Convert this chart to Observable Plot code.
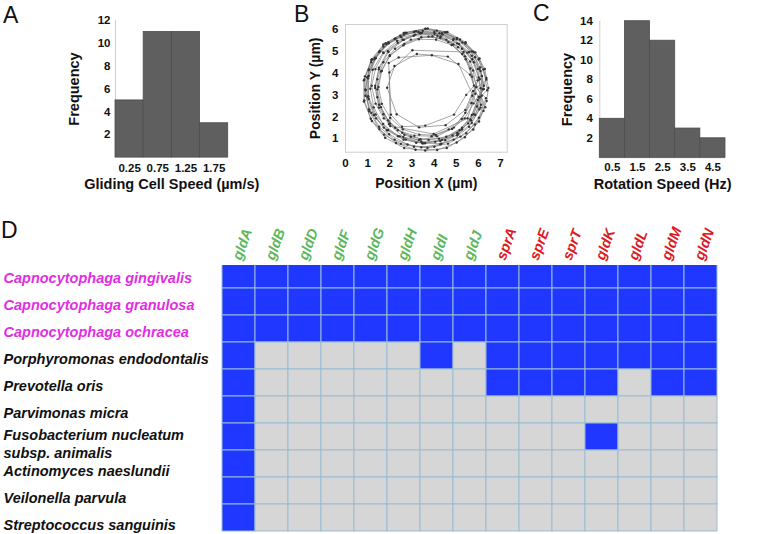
<!DOCTYPE html>
<html><head><meta charset="utf-8">
<script src="https://cdn.jsdelivr.net/npm/d3@7"></script>
<script src="https://cdn.jsdelivr.net/npm/@observablehq/plot@0.6"></script>
<style>
body{margin:0;background:#fff;}
#fig{position:relative;width:762px;height:534px;overflow:hidden;font-family:"Liberation Sans",Arial,sans-serif;}
.panel{position:absolute;}
.panel svg{max-width:none !important;}
.letter{position:absolute;font-size:23px;line-height:23px;color:#111;}
</style></head><body>
<div id="fig">
  <div id="pa" class="panel" style="left:0;top:0;width:262px"></div>
  <div id="pb" class="panel" style="left:250px;top:0;width:270px"></div>
  <div id="pc" class="panel" style="left:520px;top:0;width:242px"></div>
  <div id="pd" class="panel" style="left:0;top:200px;width:762px"></div>
  <div class="letter" style="left:3px;top:3.5px">A</div>
  <div class="letter" style="left:294px;top:2.5px">B</div>
  <div class="letter" style="left:533px;top:1.5px">C</div>
  <div class="letter" style="left:1px;top:218.5px">D</div>
</div>
<script>
// ---------- data ----------
const speedBinStart = [0, 0.5, 1.0, 1.5];
const speedBinEnd = [0.5, 1.0, 1.5, 2.0];
const speedTicks = [0.25, 0.75, 1.25, 1.75];
const speedFreq = [5, 11, 11, 3];
const speedYTicks = [2, 4, 6, 8, 10, 12];

const rotBinStart = [0, 1, 2, 3, 4];
const rotBinEnd = [1, 2, 3, 4, 5];
const rotTicks = [0.5, 1.5, 2.5, 3.5, 4.5];
const rotFreq = [4, 14, 12, 3, 2];
const rotYTicks = [2, 4, 6, 8, 10, 12, 14];

const posXTicks = [0, 1, 2, 3, 4, 5, 6, 7];
const posYTicks = [1, 2, 3, 4, 5, 6];
const track = [
[6.10,3.30],[5.97,4.18],[5.50,4.92],[4.86,5.49],[4.02,5.78],[3.15,5.74],[2.33,5.45],[1.70,4.93],[1.23,4.14],[1.12,3.28],[1.27,2.43],[1.70,1.67],[2.37,1.12],[3.19,0.82],[4.05,0.86],[4.83,1.15],[5.54,1.70],[5.93,2.47],
[6.36,3.77],[6.05,4.66],[5.42,5.39],[4.60,5.86],[3.71,6.02],[2.76,5.82],[1.95,5.35],[1.37,4.67],[1.02,3.75],[1.05,2.81],[1.38,1.93],[1.97,1.21],[2.80,0.74],[3.70,0.58],[4.63,0.78],[5.45,1.25],[6.02,1.96],[6.34,2.85],
[5.80,3.42],[5.64,4.20],[5.27,4.86],[4.64,5.40],[3.92,5.66],[3.08,5.69],[2.36,5.37],[1.72,4.90],[1.35,4.17],[1.18,3.41],[1.36,2.60],[1.73,1.93],[2.36,1.39],[3.11,1.14],[3.89,1.12],[4.66,1.43],[5.25,1.90],[5.68,2.63],
[5.97,3.66],[5.63,4.52],[5.08,5.17],[4.30,5.66],[3.38,5.79],[2.52,5.62],[1.71,5.20],[1.16,4.48],[0.83,3.66],[0.85,2.74],[1.14,1.91],[1.74,1.19],[2.50,0.77],[3.42,0.61],[4.28,0.75],[5.09,1.23],[5.64,1.88],[5.97,2.77],
[6.25,3.41],[6.08,4.25],[5.69,4.97],[5.02,5.53],[4.24,5.80],[3.36,5.82],[2.58,5.51],[1.91,4.99],[1.51,4.23],[1.34,3.41],[1.51,2.55],[1.93,1.83],[2.56,1.27],[3.38,0.98],[4.22,1.00],[5.04,1.27],[5.67,1.83],[6.11,2.55],
[5.62,3.92],[4.62,4.74],[3.22,4.86],[2.21,4.31],[1.88,3.32],[2.31,2.12],[3.32,1.52],[4.52,1.62],[5.41,2.31],[5.76,3.18],
[6.36,3.69],[6.01,4.61],[5.41,5.33],[4.55,5.84],[3.61,6.01],[2.63,5.82],[1.81,5.35],[1.17,4.59],[0.85,3.70],[0.83,2.70],[1.19,1.81],[1.79,1.05],[2.65,0.58],[3.60,0.47],[4.57,0.58],[5.39,1.07],[6.03,1.79],[6.37,2.72],
[6.45,3.31],[6.29,4.18],[5.86,4.93],[5.17,5.52],[4.35,5.80],[3.45,5.82],[2.63,5.50],[1.94,4.95],[1.51,4.16],[1.34,3.31],[1.51,2.42],[1.96,1.67],[2.61,1.08],[3.47,0.80],[4.33,0.78],[5.19,1.10],[5.84,1.65],[6.31,2.44],
[5.33,4.95],[3.02,5.03],[1.98,4.02],[2.02,1.58],[3.98,1.22],[5.51,1.93],[5.86,3.05],
[5.71,3.83],[5.43,4.62],[4.87,5.29],[4.15,5.69],[3.29,5.86],[2.47,5.69],[1.71,5.29],[1.19,4.62],[0.88,3.84],[0.90,2.96],[1.17,2.18],[1.73,1.51],[2.45,1.11],[3.31,0.94],[4.13,1.11],[4.89,1.51],[5.41,2.18],[5.72,2.96],
[5.90,3.36],[5.76,4.11],[5.40,4.75],[4.79,5.27],[4.09,5.51],[3.31,5.53],[2.61,5.25],[2.00,4.77],[1.64,4.09],[1.49,3.36],[1.64,2.59],[2.02,1.95],[2.59,1.43],[3.33,1.19],[4.07,1.17],[4.81,1.45],[5.38,1.93],[5.78,2.61],
[6.20,3.25],[6.04,4.16],[5.58,4.95],[4.88,5.54],[4.01,5.86],[3.09,5.86],[2.22,5.54],[1.52,4.95],[1.06,4.16],[0.90,3.25],[1.06,2.34],[1.52,1.55],[2.22,0.96],[3.09,0.64],[4.01,0.64],[4.88,0.96],[5.58,1.55],[6.04,2.34],
[5.10,4.40],[3.90,4.80],[2.40,4.70],[1.95,4.45],[2.05,2.10],[2.55,1.55],[3.60,1.60],[4.90,2.10],[5.45,3.00],
[6.06,3.71],[5.79,4.48],[5.26,5.10],[4.55,5.51],[3.75,5.65],[2.95,5.51],[2.24,5.10],[1.71,4.48],[1.44,3.71],[1.44,2.89],[1.71,2.12],[2.24,1.50],[2.95,1.09],[3.75,0.95],[4.55,1.09],[5.26,1.50],[5.79,2.12],[6.06,2.89],
[6.40,3.21],[6.23,4.15],[5.77,4.96],[5.04,5.59],[4.12,5.92],[3.18,5.90],[2.26,5.57],[1.55,4.98],[1.05,4.13],[0.91,3.21],[1.07,2.25],[1.53,1.44],[2.28,0.81],[3.16,0.50],[4.14,0.49],[5.02,0.83],[5.77,1.42],[6.23,2.27],
[6.01,3.79],[5.72,4.62],[5.13,5.31],[4.38,5.74],[3.49,5.91],[2.64,5.74],[1.85,5.31],[1.30,4.62],[0.98,3.80],[1.00,2.90],[1.28,2.08],[1.87,1.39],[2.62,0.96],[3.51,0.79],[4.36,0.96],[5.15,1.39],[5.70,2.08],[6.02,2.90],
[6.25,3.26],[6.10,4.08],[5.70,4.78],[5.04,5.34],[4.28,5.60],[3.42,5.62],[2.66,5.32],[2.00,4.80],[1.60,4.06],[1.44,3.25],[1.60,2.44],[2.00,1.70],[2.66,1.18],[3.42,0.88],[4.28,0.90],[5.04,1.16],[5.70,1.72],[6.10,2.42],
[6.16,3.86],[5.84,4.71],[5.28,5.38],[4.48,5.85],[3.61,6.00],[2.70,5.83],[1.94,5.40],[1.34,4.69],[1.05,3.86],[1.03,2.94],[1.36,2.11],[1.92,1.40],[2.72,0.97],[3.59,0.80],[4.50,0.95],[5.26,1.42],[5.86,2.09],[6.15,2.96]
];

const genes = ["gldA","gldB","gldD","gldF","gldG","gldH","gldI","gldJ","sprA","sprE","sprT","gldK","gldL","gldM","gldN"];
const geneGroup = ["gliding","gliding","gliding","gliding","gliding","gliding","gliding","gliding","secretion","secretion","secretion","secretion","secretion","secretion","secretion"];
const species = ["Capnocytophaga gingivalis","Capnocytophaga granulosa","Capnocytophaga ochracea","Porphyromonas endodontalis","Prevotella oris","Parvimonas micra","Fusobacterium nucleatum subsp. animalis","Actinomyces naeslundii","Veilonella parvula","Streptococcus sanguinis"];
const speciesLabels = ["Capnocytophaga gingivalis","Capnocytophaga granulosa","Capnocytophaga ochracea","Porphyromonas endodontalis","Prevotella oris","Parvimonas micra","Fusobacterium nucleatum\nsubsp. animalis","Actinomyces naeslundii","Veilonella parvula","Streptococcus sanguinis"];
const speciesGroup = ["cap","cap","cap","other","other","other","other","other","other","other"];
const presence = [
  "111111111111111",
  "111111111111111",
  "111111111111111",
  "100000101111111",
  "100000001111011",
  "100000000000000",
  "100000000001000",
  "100000000000000",
  "100000000000000",
  "100000000000000"
];

// ---------- style ----------
const FONT = '"Liberation Sans", Arial, sans-serif';
const BAR = "#5f5f5f", BAR_EDGE = "#4e4e4e", AXIS = "#cfcfcf";
const BLUE = "#1f37ff", GRAY = "#d6d6d6", GRID = "#97bdd3";
const GREEN = "#5cb85c", RED = "#dd1a24", MAGENTA = "#e22ee2", INK = "#111";
const baseStyle = {fontFamily: FONT, fontSize: "11.5px", fontWeight: "bold", color: INK, background: "transparent", overflow: "visible"};

function histogram({starts, ends, freq, xTicks, yTicks, xDomain, yDomain, title, width, ml, mr, mt, mb, fmt, xPad, yPad, titleDy, freqDx}) {
  return Plot.plot({
    width, height: 200, marginLeft: ml, marginRight: mr, marginTop: mt, marginBottom: mb,
    style: baseStyle,
    x: {domain: xDomain, ticks: xTicks, tickFormat: fmt, tickSize: 0, tickPadding: xPad, label: null},
    y: {domain: yDomain, ticks: yTicks, tickFormat: d => String(d), tickSize: 0, tickPadding: yPad, label: null},
    marks: [
      Plot.ruleX([xDomain[0]], {stroke: AXIS}),
      Plot.ruleY([0], {stroke: AXIS}),
      Plot.rectY(freq, {x1: (d, i) => starts[i], x2: (d, i) => ends[i], y: d => d, fill: BAR, stroke: BAR_EDGE, strokeWidth: 0.8}),
      Plot.text([title], {frameAnchor: "bottom", lineAnchor: "middle", textAnchor: "middle", dy: titleDy, fontSize: 14.5, fontWeight: "bold", fill: INK}),
      Plot.text(["Frequency"], {frameAnchor: "left", textAnchor: "middle", lineAnchor: "middle", dx: freqDx, rotate: -90, fontSize: 14.5, fontWeight: "bold", fill: INK})
    ]
  });
}

document.getElementById("pa").append(histogram({
  starts: speedBinStart, ends: speedBinEnd, freq: speedFreq, xTicks: speedTicks, yTicks: speedYTicks,
  xDomain: [0, 2], yDomain: [0, 12], title: "Gliding Cell Speed (µm/s)", width: 262,
  ml: 115, mr: 34.3, mt: 20, mb: 43, fmt: d => d.toFixed(2), xPad: 6, yPad: 5, titleDy: 27, freqDx: -41
}));

document.getElementById("pc").append(histogram({
  starts: rotBinStart, ends: rotBinEnd, freq: rotFreq, xTicks: rotTicks, yTicks: rotYTicks,
  xDomain: [0, 5], yDomain: [0, 14], title: "Rotation Speed (Hz)", width: 242,
  ml: 79.3, mr: 37, mt: 20.7, mb: 42.7, fmt: d => d.toFixed(1), xPad: 5, yPad: 7, titleDy: 26.7, freqDx: -32
}));

document.getElementById("pb").append(Plot.plot({
  width: 270, height: 200, marginLeft: 95, marginRight: 13.3, marginTop: 24, marginBottom: 48.3,
  style: baseStyle,
  x: {domain: [0, 7.3], ticks: posXTicks, tickFormat: d => String(d), tickSize: 0, tickPadding: 7, label: null},
  y: {domain: [0.39, 6.2], ticks: posYTicks, tickFormat: d => String(d), tickSize: 0, tickPadding: 7, label: null},
  marks: [
    Plot.frame({stroke: AXIS}),
    Plot.line(track, {x: d => d[0], y: d => d[1], stroke: "#808080", strokeWidth: 0.7}),
    Plot.dot(track, {x: d => d[0], y: d => d[1], r: 1.2, fill: "#333"}),
    Plot.text(["Position X (µm)"], {frameAnchor: "bottom", lineAnchor: "middle", textAnchor: "middle", dy: 31, fontSize: 14, fontWeight: "bold", fill: INK}),
    Plot.text(["Position Y (µm)"], {frameAnchor: "left", textAnchor: "middle", lineAnchor: "middle", dx: -30, rotate: -90, fontSize: 14, fontWeight: "bold", fill: INK})
  ]
}));

// ---------- heatmap ----------
const cells = species.flatMap((s, i) => genes.map((g, j) => ({species: s, gene: g, present: presence[i][j] === "1"})));
const labelIdx = species.map((s, i) => i);
document.getElementById("pd").append(Plot.plot({
  width: 762, height: 334, marginTop: 65, marginBottom: 2, marginLeft: 217, marginRight: 41,
  style: {fontFamily: FONT, background: "transparent", overflow: "visible"},
  color: {type: "identity"},
  x: {domain: genes, axis: null, padding: 0},
  y: {domain: species, axis: null, padding: 0, range: [60, 332]},
  marks: [
    Plot.cell(cells, {x: "gene", y: "species", fill: d => d.present ? BLUE : GRAY, stroke: GRID, strokeWidth: 1, clip: true}),
    Plot.text(genes, {x: d => d, frameAnchor: "top", dy: -6, dx: -2, rotate: -70, textAnchor: "start", lineAnchor: "middle",
      fill: (d, i) => geneGroup[i] === "gliding" ? GREEN : RED, fontSize: 14.5, fontWeight: "bold", fontStyle: "italic"}),
    Plot.text(labelIdx.filter(i => i < 6), {y: i => species[i], text: i => speciesLabels[i], frameAnchor: "left", dx: -214, dy: 3, textAnchor: "start", lineAnchor: "middle",
      fill: i => speciesGroup[i] === "cap" ? MAGENTA : INK, fontSize: 14.5, fontWeight: "bold", fontStyle: "italic"}),
    Plot.text(labelIdx.filter(i => i >= 6), {y: i => species[i], text: i => speciesLabels[i], frameAnchor: "left", dx: -214, dy: 6, textAnchor: "start", lineAnchor: "middle",
      lineHeight: 1.3, fill: i => speciesGroup[i] === "cap" ? MAGENTA : INK, fontSize: 14.5, fontWeight: "bold", fontStyle: "italic"})
  ]
}));
</script>
</body></html>
